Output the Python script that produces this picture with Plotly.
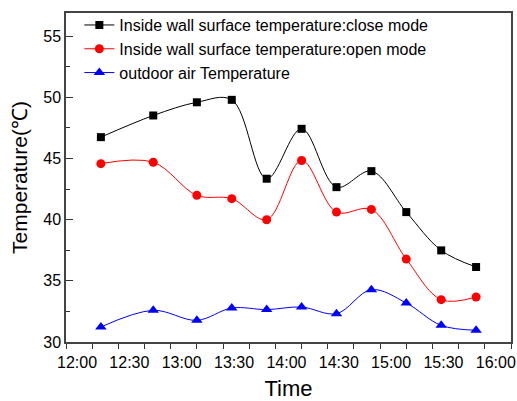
import plotly.graph_objects as go

# ---- data ----
times = ["12:20", "12:50", "13:15", "13:35", "13:55", "14:15",
         "14:35", "14:55", "15:15", "15:35", "15:55"]
close_mode = [46.75, 48.52, 49.6, 49.8, 43.35, 47.43, 42.66, 43.97, 40.62, 37.49, 36.13]
open_mode = [44.58, 44.7, 41.99, 41.72, 40.0, 44.84, 40.62, 40.84, 36.78, 33.46, 33.68]
outdoor = [31.23, 32.59, 31.77, 32.78, 32.65, 32.86, 32.32, 34.28, 33.19, 31.36, 30.96]
tick_labels = ["12:00", "12:30", "13:00", "13:30", "14:00", "14:30", "15:00", "15:30", "16:00"]
series_names = ["Inside wall surface temperature:close mode",
                "Inside wall surface temperature:open mode",
                "outdoor air Temperature"]


def to_hours(s):
    h, m = s.split(":")
    return int(h) + int(m) / 60.0


x = [to_hours(t) for t in times]
tick_vals = [to_hours(t) for t in tick_labels]

FONT = "Liberation Sans, Arial, sans-serif"

fig = go.Figure()
styles = [
    (close_mode, "#000000", "square", 8),
    (open_mode, "#FF0000", "circle", 9),
    (outdoor, "#0000FF", "triangle-up", 10),
]
for (vals, col, sym, sz), name in zip(styles, series_names):
    fig.add_trace(go.Scatter(
        x=x, y=vals, name=name, mode="lines+markers",
        line=dict(color=col, width=1, shape="spline", smoothing=1.0),
        marker=dict(color=col, symbol=sym, size=sz),
    ))

fig.update_layout(
    width=517, height=401,
    margin=dict(l=66, r=6, t=13, b=59),
    paper_bgcolor="white", plot_bgcolor="white",
    font=dict(family=FONT, size=16, color="#000000"),
    showlegend=True,
    legend=dict(x=0.03, y=1.015, xanchor="left", yanchor="top",
                bgcolor="rgba(0,0,0,0)", borderwidth=0,
                font=dict(size=16, family=FONT), tracegroupgap=0),
    xaxis=dict(
        range=[12, 16.25], tickvals=tick_vals, ticktext=tick_labels,
        ticks="outside", ticklen=5, tickwidth=1, tickcolor="#333333",
        minor=dict(dtick=0.25, tick0=12, ticks="outside", ticklen=5, tickcolor="#333333"),
        showline=True, linecolor="#444444", linewidth=1.5, mirror=True,
        showgrid=False, zeroline=False, ticklabelshift=11, automargin=False,
        tickfont=dict(size=16, family=FONT),
        title=dict(text="Time", font=dict(size=22, family=FONT), standoff=13),
    ),
    yaxis=dict(
        range=[30, 56.9], tick0=30, dtick=5,
        ticks="inside", ticklen=7, tickwidth=1, tickcolor="#333333",
        minor=dict(dtick=2.5, tick0=30, ticks="inside", ticklen=4, tickcolor="#333333"),
        showline=True, linecolor="#444444", linewidth=1.5, mirror=True,
        showgrid=False, zeroline=False, automargin=False,
        tickfont=dict(size=16, family=FONT),
        title=dict(text="Temperature(℃)", font=dict(size=21, family=FONT), standoff=10),
    ),
)

# remove the default page margin so the figure fills the window exactly
fig.write_html("out.html",
               config={"displayModeBar": False},
               post_script="document.body.style.margin='0';document.body.style.overflow='hidden';")
